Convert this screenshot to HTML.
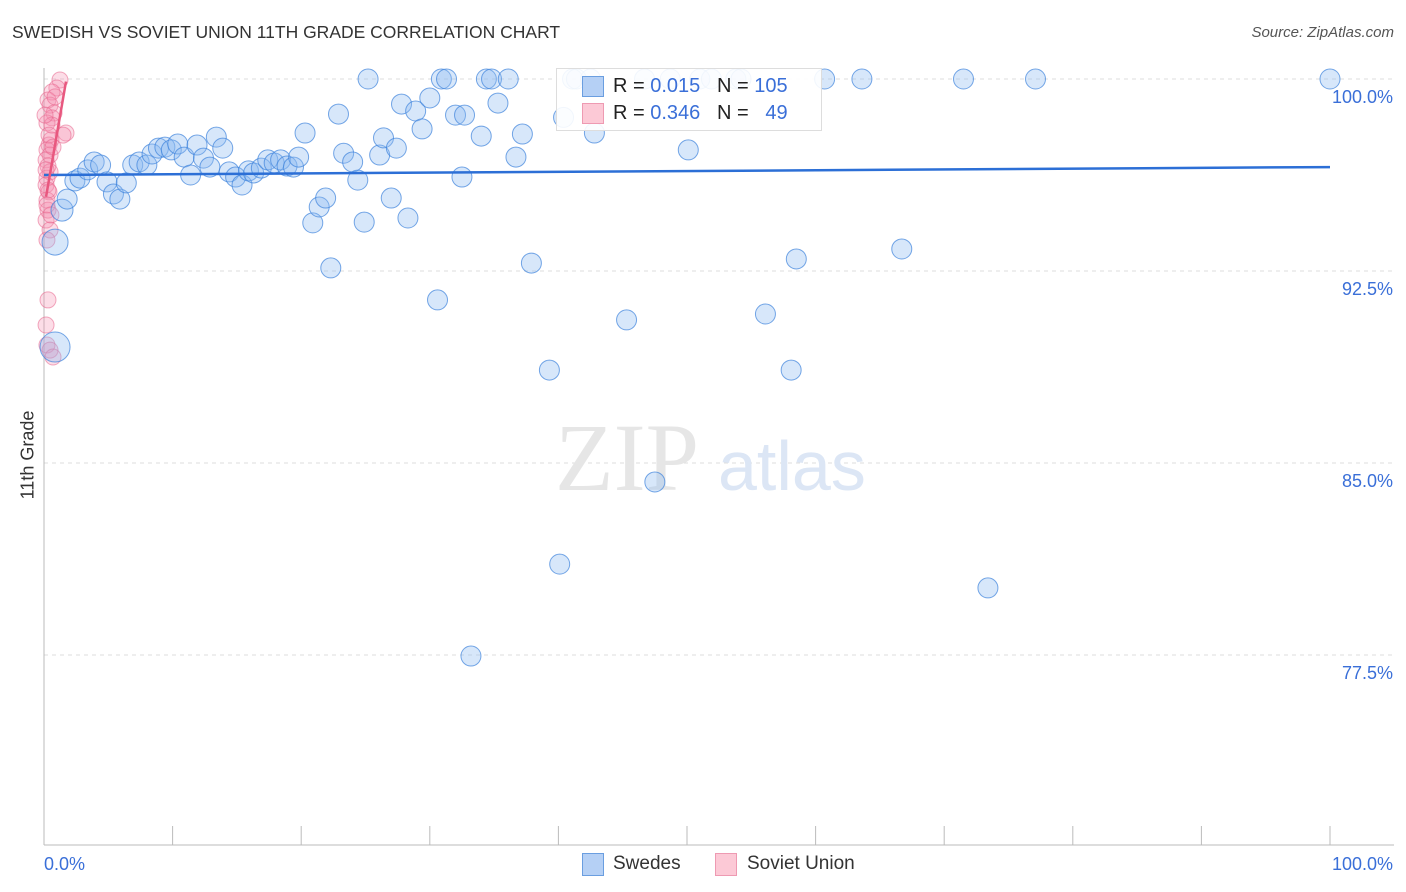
<!DOCTYPE html>
<html><head><meta charset="utf-8"><style>
body{margin:0;background:#fff;font-family:"Liberation Sans",sans-serif;}
#wrap{position:relative;width:1406px;height:892px;overflow:hidden;}
.t{position:absolute;white-space:nowrap;}
</style></head><body>
<div id="wrap">
<div class="t" style="left:12px;top:22px;font-size:17.5px;color:#333;">SWEDISH VS SOVIET UNION 11TH GRADE CORRELATION CHART</div>
<div class="t" style="right:12px;top:24px;font-size:15px;color:#555;font-style:italic;">Source: ZipAtlas.com</div>
<svg id="plot" width="1406" height="892" style="position:absolute;left:0;top:0"></svg>
</div>
<script>
const xTickLabels=["0.0%","100.0%"];
const yTicks=[100,92.5,85,77.5];
const yTickLabels=["100.0%","92.5%","85.0%","77.5%"];
const blueX=[0.86,1.4,1.8,0.86,2.4,2.8,3.4,3.9,4.4,4.9,5.4,5.9,6.4,6.9,7.4,8.0,8.4,8.9,9.4,9.9,10.4,10.9,11.4,11.9,12.4,12.9,13.4,13.9,14.4,14.9,15.4,15.9,16.3,16.9,17.4,17.9,18.4,18.9,19.4,19.8,20.3,20.9,21.4,21.9,22.3,22.9,23.3,24.0,24.4,24.9,25.2,26.1,26.4,27.0,27.4,27.8,28.3,28.9,29.4,30.0,30.6,30.9,31.3,32.0,32.5,32.7,33.2,34.0,34.4,34.8,35.3,36.1,36.7,37.2,37.9,39.3,40.1,41.1,41.4,42.5,42.8,45.3,46.7,47.5,48.7,50.1,51.0,51.9,53.8,54.2,56.1,58.1,58.5,60.7,63.6,66.7,71.5,73.4,77.1,100,40.4];
const blueY=[93.63,94.88,95.31,89.53,96.02,96.13,96.45,96.76,96.64,95.98,95.51,95.31,95.94,96.64,96.76,96.64,97.07,97.3,97.34,97.23,97.46,96.95,96.25,97.42,96.91,96.56,97.73,97.3,96.37,96.17,95.86,96.41,96.33,96.52,96.84,96.72,96.84,96.6,96.56,96.95,97.89,94.38,95.0,95.35,92.62,98.63,97.1,96.76,96.05,94.41,100,97.03,97.7,95.35,97.3,99.02,94.57,98.75,98.05,99.26,91.37,100,100,98.59,96.17,98.59,77.46,97.77,100,100,99.06,100,96.95,97.85,92.81,88.63,81.05,100,100,100,97.89,90.59,100,84.26,100,97.23,100,100,100,100,90.82,88.63,92.97,100,100,93.36,100,80.12,100,100,98.5];
const blueSize=[13,11,10,15];
const pinkX=[1.24,1.0,0.62,0.31,0.47,0.78,0.62,0.23,1.71,1.48,0.54,0.39,0.23,0.47,0.16,0.31,0.47,0.23,0.16,0.39,0.23,0.31,0.16,0.47,0.23,0.31,0.16,0.23,0.47,0.7,0.31,0.62,0.86,0.08,0.39,0.16,0.7,0.23,0.54];
const pinkY=[99.96,99.65,99.49,99.18,98.98,98.67,98.48,98.28,97.89,97.81,97.62,97.42,97.23,97.03,96.84,96.6,96.37,96.13,95.86,95.59,95.27,94.88,94.49,94.1,93.71,91.37,90.39,89.61,89.41,89.14,95.66,98.2,99.3,98.59,97.81,96.45,97.34,95.08,94.69];
const blueTrendX=[0,100], blueTrendY=[96.25,96.56];
const pinkTrendX=[0.16,1.71], pinkTrendY=[95.4,99.9];

const X0=44,X1=1330,Y100=79,PXPER=25.6;
const xs=v=>X0+(X1-X0)*v/100;
const ys=v=>Y100+(100-v)*PXPER;
const svg=document.getElementById('plot');
const NS='http://www.w3.org/2000/svg';
function mk(tag,attrs){const e=document.createElementNS(NS,tag);for(const k in attrs)e.setAttribute(k,attrs[k]);svg.appendChild(e);return e;}

yTicks.forEach((t,i)=>{
 const g=mk('line',{x1:44,x2:1394,y1:ys(t),y2:ys(t),stroke:'#ddd','stroke-dasharray':'4,4'});
 
 
 const tx=mk('text',{x:1393,y:ys(t)+24,'text-anchor':'end','font-size':18,fill:'#3a6fd8','font-family':'Liberation Sans, sans-serif'});
 tx.textContent=yTickLabels[i];
 
 
});
const ax=mk('line',{x1:44,x2:44,y1:68,y2:845,stroke:'#bbb'});


const bx=mk('line',{x1:44,x2:1394,y1:845,y2:845,stroke:'#bbb'});


for(let i=1;i<=10;i++){
 const tk=mk('line',{x1:xs(i*10),x2:xs(i*10),y1:826,y2:845,stroke:'#bbb'});
 
 
}
const wm=mk('text',{x:555,y:490,'font-size':96,fill:'#e6e6e6','font-family':'Liberation Serif, serif'});
wm.textContent='ZIP';


const wm2=mk('text',{x:718,y:490,'font-size':70,fill:'#dce6f5','font-family':'Liberation Sans, sans-serif'});
wm2.textContent='atlas';



pinkX.forEach((v,i)=>{
 const c=mk('circle',{cx:xs(v),cy:ys(pinkY[i]),r:8,fill:'rgba(244,143,177,0.3)',stroke:'rgba(232,100,140,0.55)','stroke-width':1});
 
 
});
blueX.forEach((v,i)=>{
 const c=mk('circle',{cx:xs(v),cy:ys(blueY[i]),r:blueSize[i]||10,fill:'rgba(140,185,240,0.35)',stroke:'rgba(60,130,220,0.7)','stroke-width':1});
 
 
});
const bl=mk('line',{x1:xs(blueTrendX[0]),y1:ys(blueTrendY[0]),x2:xs(blueTrendX[1]),y2:ys(blueTrendY[1]),stroke:'#2c6fd6','stroke-width':2.5});


const pl=mk('line',{x1:xs(pinkTrendX[0]),y1:ys(pinkTrendY[0]),x2:xs(pinkTrendX[1]),y2:ys(pinkTrendY[1]),stroke:'#e8587f','stroke-width':2.5});



const xl=mk('text',{x:44,y:870,'font-size':18,fill:'#3a6fd8','font-family':'Liberation Sans, sans-serif'});
xl.textContent=xTickLabels[0];


const xr=mk('text',{x:1393,y:870,'text-anchor':'end','font-size':18,fill:'#3a6fd8','font-family':'Liberation Sans, sans-serif'});
xr.textContent=xTickLabels[1];


</script>
<div class="t" style="left:18px;top:455px;transform:translate(-50%,-50%) rotate(-90deg);transform-origin:center;font-size:18px;color:#333;margin-left:10px">11th Grade</div>
<div style="position:absolute;left:556px;top:68px;width:264px;height:61px;background:rgba(255,255,255,0.9);border:1px solid #ddd;">
 <div style="position:absolute;left:25px;top:7px;width:20px;height:19px;background:#b5d0f5;border:1px solid #6a9ee0"></div>
 <div class="t" style="left:56px;top:6px;font-size:20px;color:#222">R = <span style="color:#3a6fd8">0.015</span>&nbsp;&nbsp;&nbsp;N = <span style="color:#3a6fd8">105</span></div>
 <div style="position:absolute;left:25px;top:34px;width:20px;height:19px;background:#fcc9d6;border:1px solid #ee9ab2"></div>
 <div class="t" style="left:56px;top:33px;font-size:20px;color:#222">R = <span style="color:#3a6fd8">0.346</span>&nbsp;&nbsp;&nbsp;N = &nbsp;&nbsp;<span style="color:#3a6fd8">49</span></div>
</div>
<div style="position:absolute;left:582px;top:853px;width:20px;height:21px;background:#b5d0f5;border:1px solid #6a9ee0"></div>
<div class="t" style="left:613px;top:853px;font-size:19px;color:#333">Swedes</div>
<div style="position:absolute;left:715px;top:853px;width:20px;height:21px;background:#fcc9d6;border:1px solid #ee9ab2"></div>
<div class="t" style="left:747px;top:853px;font-size:19px;color:#333">Soviet Union</div>
</body></html>
